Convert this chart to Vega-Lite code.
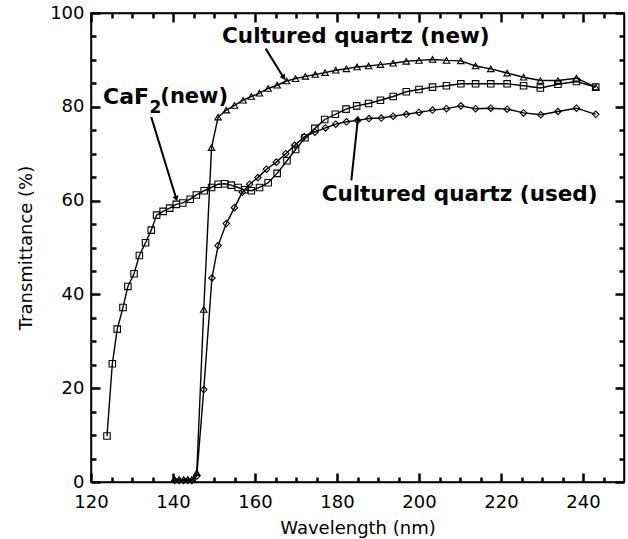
{
  "$schema": "https://vega.github.io/schema/vega-lite/v6.json",
  "width": 533,
  "height": 469,
  "autosize": {"type": "none"},
  "padding": {"left": 91, "top": 13, "right": 4, "bottom": 57},
  "background": "white",
  "config": {
    "view": {"stroke": "black", "strokeWidth": 1.5},
    "axis": {"grid": false, "domain": true, "domainColor": "black", "domainWidth": 1.5, "ticks": true, "tickColor": "black", "tickWidth": 2.5, "labelColor": "black", "titleColor": "black", "labelFont": "DejaVu Sans", "titleFont": "DejaVu Sans", "labelFontSize": 18, "titleFontSize": 18, "titleFontWeight": "normal", "labelOverlap": false, "labelFlush": false}
  },
  "datasets": {
    "curves": [
      {"series": "CaF2", "wl": 123.9, "T": 9.8},
      {"series": "CaF2", "wl": 125.2, "T": 25.2},
      {"series": "CaF2", "wl": 126.4, "T": 32.6},
      {"series": "CaF2", "wl": 127.8, "T": 37.2},
      {"series": "CaF2", "wl": 129.0, "T": 41.7},
      {"series": "CaF2", "wl": 130.5, "T": 44.4},
      {"series": "CaF2", "wl": 131.8, "T": 48.3},
      {"series": "CaF2", "wl": 133.3, "T": 51.0},
      {"series": "CaF2", "wl": 134.7, "T": 53.7},
      {"series": "CaF2", "wl": 136.0, "T": 56.9},
      {"series": "CaF2", "wl": 137.6, "T": 57.7},
      {"series": "CaF2", "wl": 139.2, "T": 58.4},
      {"series": "CaF2", "wl": 140.8, "T": 59.2},
      {"series": "CaF2", "wl": 142.4, "T": 59.5},
      {"series": "CaF2", "wl": 144.2, "T": 60.3},
      {"series": "CaF2", "wl": 145.7, "T": 61.2},
      {"series": "CaF2", "wl": 147.6, "T": 62.1},
      {"series": "CaF2", "wl": 149.4, "T": 62.8},
      {"series": "CaF2", "wl": 151.0, "T": 63.5},
      {"series": "CaF2", "wl": 152.6, "T": 63.6},
      {"series": "CaF2", "wl": 154.2, "T": 63.3},
      {"series": "CaF2", "wl": 155.9, "T": 62.8},
      {"series": "CaF2", "wl": 157.5, "T": 62.3},
      {"series": "CaF2", "wl": 159.1, "T": 62.1},
      {"series": "CaF2", "wl": 161.1, "T": 62.8},
      {"series": "CaF2", "wl": 163.2, "T": 63.8},
      {"series": "CaF2", "wl": 165.4, "T": 65.8},
      {"series": "CaF2", "wl": 167.8, "T": 68.5},
      {"series": "CaF2", "wl": 169.9, "T": 70.9},
      {"series": "CaF2", "wl": 172.2, "T": 73.4},
      {"series": "CaF2", "wl": 174.6, "T": 75.4},
      {"series": "CaF2", "wl": 177.0, "T": 77.3},
      {"series": "CaF2", "wl": 179.6, "T": 78.4},
      {"series": "CaF2", "wl": 182.2, "T": 79.5},
      {"series": "CaF2", "wl": 184.8, "T": 80.2},
      {"series": "CaF2", "wl": 187.7, "T": 80.7},
      {"series": "CaF2", "wl": 190.6, "T": 81.4},
      {"series": "CaF2", "wl": 193.7, "T": 82.2},
      {"series": "CaF2", "wl": 196.9, "T": 83.2},
      {"series": "CaF2", "wl": 200.0, "T": 83.7},
      {"series": "CaF2", "wl": 203.3, "T": 84.2},
      {"series": "CaF2", "wl": 206.7, "T": 84.5},
      {"series": "CaF2", "wl": 210.2, "T": 84.9},
      {"series": "CaF2", "wl": 213.8, "T": 84.9},
      {"series": "CaF2", "wl": 217.5, "T": 84.9},
      {"series": "CaF2", "wl": 221.5, "T": 84.9},
      {"series": "CaF2", "wl": 225.5, "T": 84.5},
      {"series": "CaF2", "wl": 229.6, "T": 84.0},
      {"series": "CaF2", "wl": 233.9, "T": 84.8},
      {"series": "CaF2", "wl": 238.4, "T": 85.4},
      {"series": "CaF2", "wl": 243.1, "T": 84.2},
      {"series": "new", "wl": 140.4, "T": 0.5},
      {"series": "new", "wl": 141.5, "T": 0.5},
      {"series": "new", "wl": 142.6, "T": 0.5},
      {"series": "new", "wl": 143.6, "T": 0.5},
      {"series": "new", "wl": 144.6, "T": 0.5},
      {"series": "new", "wl": 145.8, "T": 2.0},
      {"series": "new", "wl": 147.5, "T": 36.8},
      {"series": "new", "wl": 149.4, "T": 71.3},
      {"series": "new", "wl": 151.0, "T": 77.8},
      {"series": "new", "wl": 153.0, "T": 79.3},
      {"series": "new", "wl": 155.0, "T": 80.3},
      {"series": "new", "wl": 157.1, "T": 81.4},
      {"series": "new", "wl": 159.1, "T": 82.2},
      {"series": "new", "wl": 161.1, "T": 82.9},
      {"series": "new", "wl": 163.2, "T": 83.9},
      {"series": "new", "wl": 165.4, "T": 84.6},
      {"series": "new", "wl": 167.7, "T": 85.5},
      {"series": "new", "wl": 169.9, "T": 86.0},
      {"series": "new", "wl": 172.3, "T": 86.5},
      {"series": "new", "wl": 174.7, "T": 86.9},
      {"series": "new", "wl": 177.1, "T": 87.3},
      {"series": "new", "wl": 179.7, "T": 87.8},
      {"series": "new", "wl": 182.3, "T": 88.1},
      {"series": "new", "wl": 184.9, "T": 88.5},
      {"series": "new", "wl": 187.7, "T": 88.7},
      {"series": "new", "wl": 190.6, "T": 89.0},
      {"series": "new", "wl": 193.7, "T": 89.3},
      {"series": "new", "wl": 196.9, "T": 89.7},
      {"series": "new", "wl": 200.0, "T": 89.9},
      {"series": "new", "wl": 203.3, "T": 90.1},
      {"series": "new", "wl": 206.7, "T": 89.9},
      {"series": "new", "wl": 210.2, "T": 89.8},
      {"series": "new", "wl": 213.8, "T": 88.7},
      {"series": "new", "wl": 217.5, "T": 88.1},
      {"series": "new", "wl": 221.5, "T": 87.2},
      {"series": "new", "wl": 225.5, "T": 86.3},
      {"series": "new", "wl": 229.6, "T": 85.6},
      {"series": "new", "wl": 233.9, "T": 85.6},
      {"series": "new", "wl": 238.4, "T": 86.1},
      {"series": "new", "wl": 243.1, "T": 84.2},
      {"series": "used", "wl": 140.4, "T": 0.3},
      {"series": "used", "wl": 141.5, "T": 0.3},
      {"series": "used", "wl": 142.6, "T": 0.3},
      {"series": "used", "wl": 143.6, "T": 0.3},
      {"series": "used", "wl": 144.6, "T": 0.3},
      {"series": "used", "wl": 145.8, "T": 1.3},
      {"series": "used", "wl": 147.5, "T": 19.7},
      {"series": "used", "wl": 149.5, "T": 43.5},
      {"series": "used", "wl": 151.0, "T": 50.4},
      {"series": "used", "wl": 153.0, "T": 55.1},
      {"series": "used", "wl": 155.0, "T": 58.5},
      {"series": "used", "wl": 156.9, "T": 61.8},
      {"series": "used", "wl": 158.7, "T": 63.5},
      {"series": "used", "wl": 160.7, "T": 64.9},
      {"series": "used", "wl": 162.8, "T": 66.7},
      {"series": "used", "wl": 165.2, "T": 68.2},
      {"series": "used", "wl": 167.5, "T": 70.0},
      {"series": "used", "wl": 169.7, "T": 71.8},
      {"series": "used", "wl": 172.0, "T": 73.6},
      {"series": "used", "wl": 174.6, "T": 74.6},
      {"series": "used", "wl": 177.2, "T": 75.5},
      {"series": "used", "wl": 179.7, "T": 76.3},
      {"series": "used", "wl": 182.3, "T": 76.8},
      {"series": "used", "wl": 185.0, "T": 77.1},
      {"series": "used", "wl": 187.8, "T": 77.5},
      {"series": "used", "wl": 190.8, "T": 77.6},
      {"series": "used", "wl": 193.7, "T": 78.0},
      {"series": "used", "wl": 196.9, "T": 78.4},
      {"series": "used", "wl": 200.0, "T": 78.8},
      {"series": "used", "wl": 203.3, "T": 79.3},
      {"series": "used", "wl": 206.7, "T": 79.6},
      {"series": "used", "wl": 210.2, "T": 80.2},
      {"series": "used", "wl": 213.8, "T": 79.6},
      {"series": "used", "wl": 217.5, "T": 79.7},
      {"series": "used", "wl": 221.5, "T": 79.5},
      {"series": "used", "wl": 225.5, "T": 78.7},
      {"series": "used", "wl": 229.7, "T": 78.3},
      {"series": "used", "wl": 233.9, "T": 79.0},
      {"series": "used", "wl": 238.4, "T": 79.7},
      {"series": "used", "wl": 243.1, "T": 78.4}
    ],
    "arrows": [
      {"id": "new", "wl": 162.6, "T": 92.4, "wl2": 167.0, "T2": 86.2},
      {"id": "caf2", "wl": 134.7, "T": 77.8, "wl2": 140.8, "T2": 60.4},
      {"id": "used", "wl": 183.5, "T": 64.3, "wl2": 185.1, "T2": 77.5}
    ],
    "labels": [
      {"text": "Cultured quartz (new)", "wl": 184.6, "T": 94.8},
      {"text": "Cultured quartz (used)", "wl": 209.9, "T": 61.1}
    ]
  },
  "layer": [
    {
      "data": {"name": "curves"},
      "mark": {"type": "line", "color": "black", "strokeWidth": 1.4},
      "encoding": {
        "x": {"field": "wl", "type": "quantitative", "scale": {"domain": [120, 250], "nice": false, "zero": false},
          "axis": {"orient": "bottom", "title": "Wavelength (nm)", "values": [120,125,130,135,140,145,150,155,160,165,170,175,180,185,190,195,200,205,210,215,220,225,230,235,240,245],
            "labelExpr": "datum.value % 20 === 0 ? datum.label : ''",
            "tickSize": {"condition": {"test": "datum.value % 20 === 0", "value": -9}, "value": -5},
            "labelPadding": 20, "titlePadding": 4}},
        "y": {"field": "T", "type": "quantitative", "scale": {"domain": [0, 100], "nice": false, "zero": false},
          "axis": {"orient": "left", "title": "Transmittance (%)", "values": [0,5,10,15,20,25,30,35,40,45,50,55,60,65,70,75,80,85,90,95,100],
            "labelExpr": "datum.value % 20 === 0 ? datum.label : ''",
            "tickSize": {"condition": {"test": "datum.value % 20 === 0", "value": -9}, "value": -5},
            "labelPadding": 16, "titlePadding": 14}},
        "detail": {"field": "series"}
      }
    },
    {
      "data": {"name": "curves"},
      "mark": {"type": "point", "filled": false, "stroke": "black", "strokeWidth": 1.1, "size": 42, "opacity": 1},
      "encoding": {
        "x": {"field": "wl", "type": "quantitative",
          "axis": {"orient": "top", "title": null, "labels": false, "values": [120,125,130,135,140,145,150,155,160,165,170,175,180,185,190,195,200,205,210,215,220,225,230,235,240,245],
            "tickSize": {"condition": {"test": "datum.value % 20 === 0", "value": -9}, "value": -5}}},
        "y": {"field": "T", "type": "quantitative",
          "axis": {"orient": "right", "title": null, "labels": false, "values": [0,5,10,15,20,25,30,35,40,45,50,55,60,65,70,75,80,85,90,95,100],
            "tickSize": {"condition": {"test": "datum.value % 20 === 0", "value": -9}, "value": -5}}},
        "shape": {"field": "series", "type": "nominal", "scale": {"domain": ["CaF2", "new", "used"], "range": ["square", "triangle-up", "diamond"]}, "legend": null}
      }
    },
    {
      "data": {"name": "arrows"},
      "mark": {"type": "rule", "color": "black", "strokeWidth": 2},
      "encoding": {
        "x": {"field": "wl", "type": "quantitative", "axis": null},
        "y": {"field": "T", "type": "quantitative", "axis": null},
        "x2": {"field": "wl2"},
        "y2": {"field": "T2"}
      }
    },
    {
      "data": {"name": "arrows"},
      "transform": [{"filter": "datum.id === 'new'"}],
      "mark": {"type": "point", "shape": "triangle-up", "filled": true, "color": "black", "size": 40, "angle": 148, "opacity": 1},
      "encoding": {
        "x": {"field": "wl2", "type": "quantitative", "axis": null},
        "y": {"field": "T2", "type": "quantitative", "axis": null}
      }
    },
    {
      "data": {"name": "arrows"},
      "transform": [{"filter": "datum.id === 'caf2'"}],
      "mark": {"type": "point", "shape": "triangle-up", "filled": true, "color": "black", "size": 40, "angle": 163, "opacity": 1},
      "encoding": {
        "x": {"field": "wl2", "type": "quantitative", "axis": null},
        "y": {"field": "T2", "type": "quantitative", "axis": null}
      }
    },
    {
      "data": {"name": "arrows"},
      "transform": [{"filter": "datum.id === 'used'"}],
      "mark": {"type": "point", "shape": "triangle-up", "filled": true, "color": "black", "size": 40, "angle": 6, "opacity": 1},
      "encoding": {
        "x": {"field": "wl2", "type": "quantitative", "axis": null},
        "y": {"field": "T2", "type": "quantitative", "axis": null}
      }
    },
    {
      "data": {"name": "labels"},
      "mark": {"type": "text", "font": "DejaVu Sans", "fontWeight": "bold", "fontSize": 21.5, "align": "center", "baseline": "middle", "color": "black"},
      "encoding": {
        "x": {"field": "wl", "type": "quantitative", "axis": null},
        "y": {"field": "T", "type": "quantitative", "axis": null},
        "text": {"field": "text"}
      }
    },
    {
      "data": {"values": [{"text": "CaF", "wl": 134.15, "T": 82.0}]},
      "mark": {"type": "text", "font": "DejaVu Sans", "fontWeight": "bold", "fontSize": 22, "align": "right", "baseline": "middle", "color": "black"},
      "encoding": {
        "x": {"field": "wl", "type": "quantitative", "axis": null},
        "y": {"field": "T", "type": "quantitative", "axis": null},
        "text": {"field": "text"}
      }
    },
    {
      "data": {"values": [{"text": "2", "wl": 135.7, "T": 79.7}]},
      "mark": {"type": "text", "font": "DejaVu Sans", "fontWeight": "bold", "fontSize": 17, "align": "center", "baseline": "middle", "color": "black"},
      "encoding": {
        "x": {"field": "wl", "type": "quantitative", "axis": null},
        "y": {"field": "T", "type": "quantitative", "axis": null},
        "text": {"field": "text"}
      }
    },
    {
      "data": {"values": [{"text": "(new)", "wl": 136.9, "T": 82.0}]},
      "mark": {"type": "text", "font": "DejaVu Sans", "fontWeight": "bold", "fontSize": 21, "align": "left", "baseline": "middle", "color": "black"},
      "encoding": {
        "x": {"field": "wl", "type": "quantitative", "axis": null},
        "y": {"field": "T", "type": "quantitative", "axis": null},
        "text": {"field": "text"}
      }
    }
  ],
  "resolve": {"axis": {"x": "independent", "y": "independent"}}
}
